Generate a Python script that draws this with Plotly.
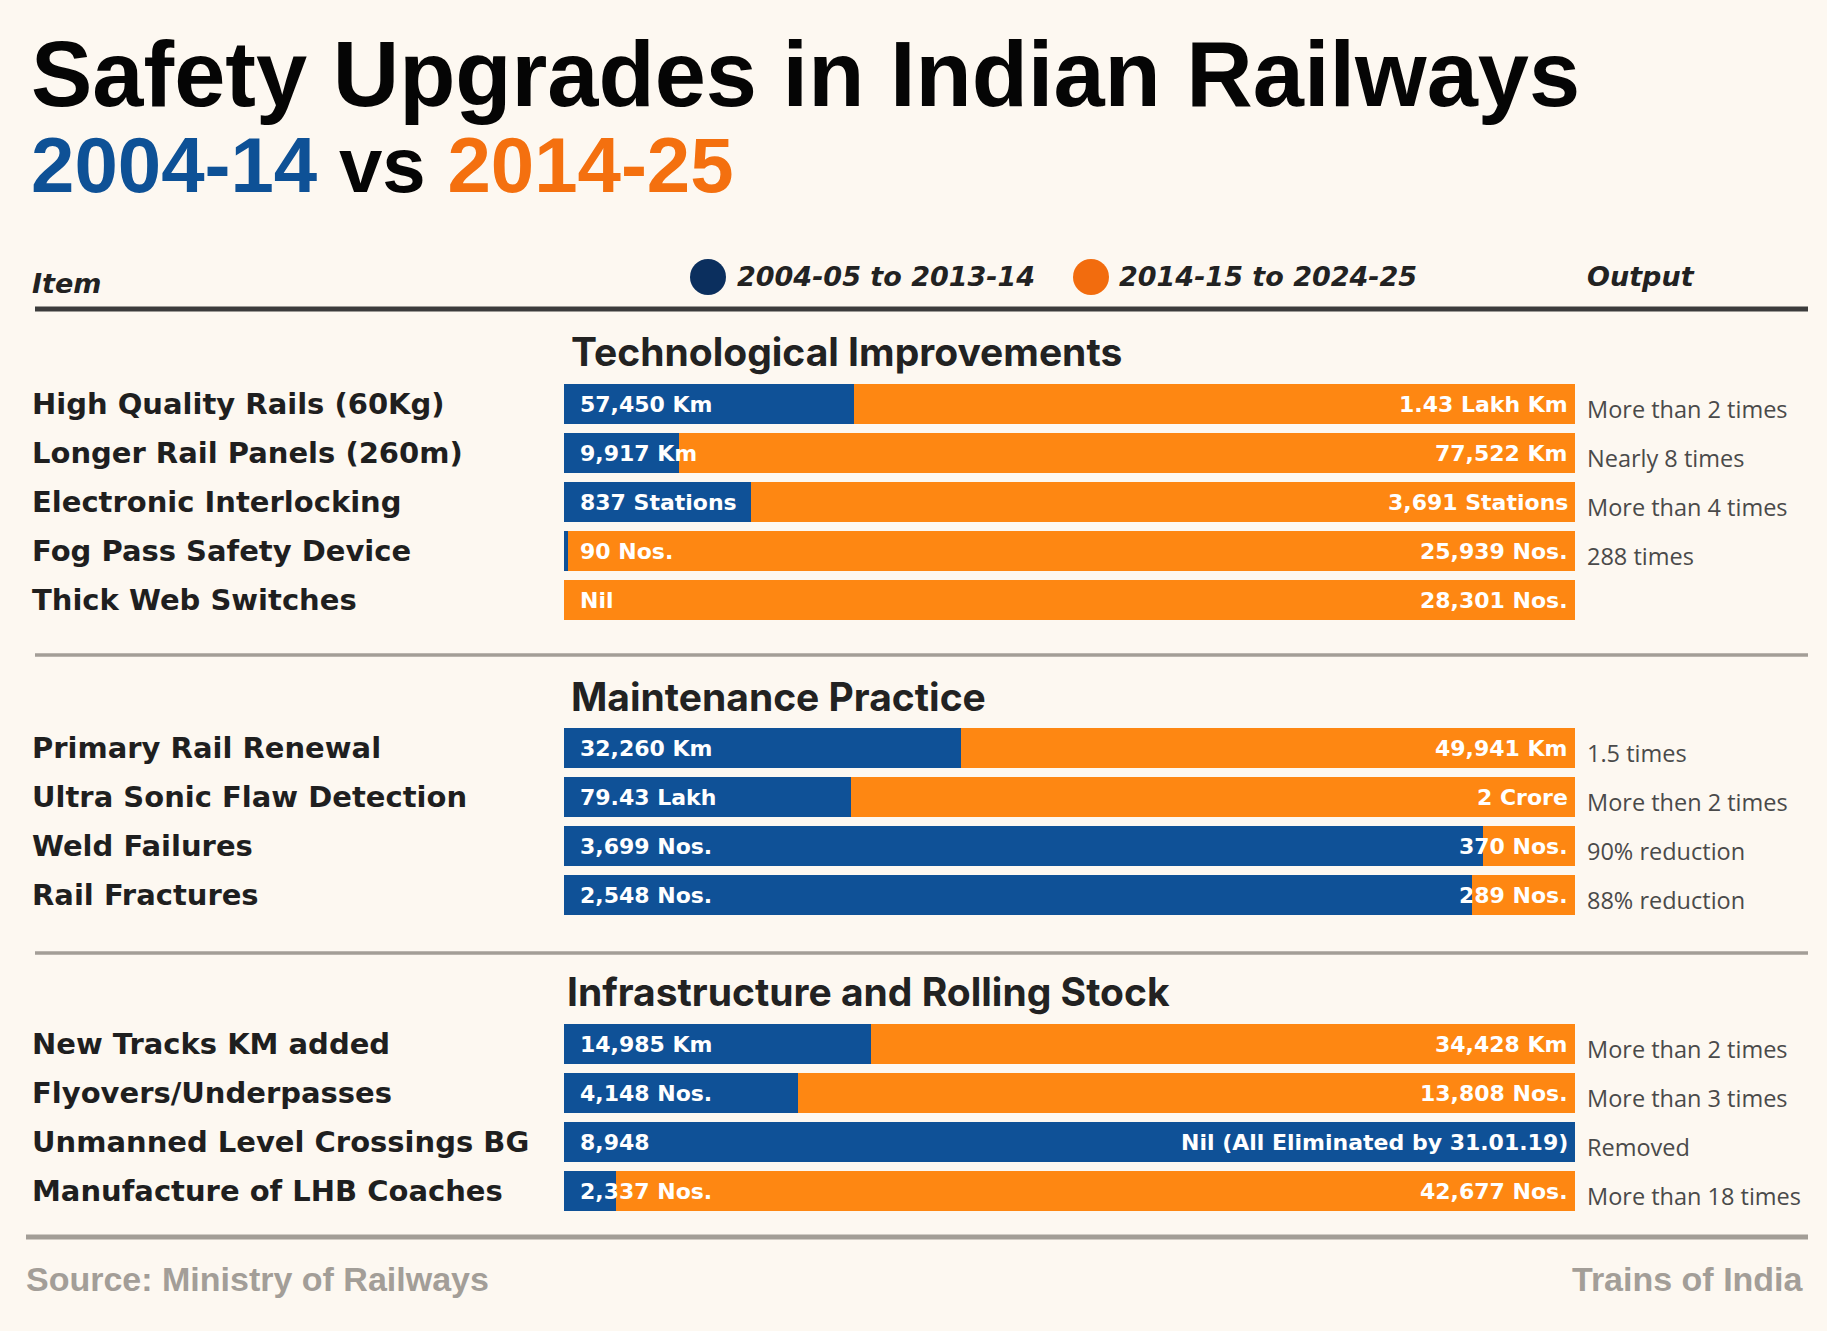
import plotly.graph_objects as go

W, H = 1827, 1331

# section 1
tech_items = ["High Quality Rails (60Kg)", "Longer Rail Panels (260m)", "Electronic Interlocking",
              "Fog Pass Safety Device", "Thick Web Switches"]
tech_old = [57450, 9917, 837, 90, 0]
tech_new = [143000, 77522, 3691, 25939, 28301]
tech_old_txt = ["57,450 Km", "9,917 Km", "837 Stations", "90 Nos.", "Nil"]
tech_new_txt = ["1.43 Lakh Km", "77,522 Km", "3,691 Stations", "25,939 Nos.", "28,301 Nos."]
tech_out = ["More than 2 times", "Nearly 8 times", "More than 4 times", "288 times", ""]

# section 2 (ultrasonic in lakh)
maint_items = ["Primary Rail Renewal", "Ultra Sonic Flaw Detection", "Weld Failures", "Rail Fractures"]
maint_old = [32260, 79.43, 3699, 2548]
maint_new = [49941, 200, 370, 289]
maint_old_txt = ["32,260 Km", "79.43 Lakh", "3,699 Nos.", "2,548 Nos."]
maint_new_txt = ["49,941 Km", "2 Crore", "370 Nos.", "289 Nos."]
maint_out = ["1.5 times", "More then 2 times", "90% reduction", "88% reduction"]

# section 3
infra_items = ["New Tracks KM added", "Flyovers/Underpasses", "Unmanned Level Crossings BG",
               "Manufacture of LHB Coaches"]
infra_old = [14985, 4148, 8948, 2337]
infra_new = [34428, 13808, 0, 42677]
infra_old_txt = ["14,985 Km", "4,148 Nos.", "8,948", "2,337 Nos."]
infra_new_txt = ["34,428 Km", "13,808 Nos.", "Nil (All Eliminated by 31.01.19)", "42,677 Nos."]
infra_out = ["More than 2 times", "More than 3 times", "Removed", "More than 18 times"]

SECTIONS = [
    ("Technological Improvements", tech_items, tech_old, tech_new, tech_old_txt, tech_new_txt, tech_out),
    ("Maintenance Practice", maint_items, maint_old, maint_new, maint_old_txt, maint_new_txt, maint_out),
    ("Infrastructure and Rolling Stock", infra_items, infra_old, infra_new, infra_old_txt, infra_new_txt, infra_out),
]

BLUE = "#0F5197"
ORANGE = "#FE8712"
BG = "#FDF8F1"

# pixel layout of each section: top of bars, header y, header x
SEC_TOP = [379.5, 723.5, 1019.5]
SEC_HEAD = [351, 696, 991]
HEAD_X = [569, 569, 565]
PITCH = 49


def py(y):
    return 1 - y / H


def px(x):
    return x / W


fig = go.Figure()
annotations = []
layout_axes = {}

for i, (head, items, old, new, old_txt, new_txt, out) in enumerate(SECTIONS):
    n = i + 1
    xa = "x" if n == 1 else f"x{n}"
    ya = "y" if n == 1 else f"y{n}"
    fig.add_trace(go.Bar(y=items, x=old, orientation="h", marker=dict(color=BLUE, line_width=0),
                         xaxis=xa, yaxis=ya, showlegend=False, hoverinfo="skip"))
    fig.add_trace(go.Bar(y=items, x=new, orientation="h", marker=dict(color=ORANGE, line_width=0),
                         xaxis=xa, yaxis=ya, showlegend=False, hoverinfo="skip"))
    top = SEC_TOP[i]
    bottom = top + PITCH * len(items)
    layout_axes["xaxis" if n == 1 else f"xaxis{n}"] = dict(
        domain=[px(564), px(1575)], range=[0, 100], visible=False, anchor=ya, fixedrange=True)
    layout_axes["yaxis" if n == 1 else f"yaxis{n}"] = dict(
        domain=[py(bottom), py(top)], autorange="reversed", visible=False, anchor=xa,
        categoryorder="array", categoryarray=items, fixedrange=True)

    annotations.append(dict(text=head, xref="paper", yref="paper", x=px(HEAD_X[i]), y=py(SEC_HEAD[i]),
                            xanchor="left", yanchor="middle", showarrow=False,
                            font=dict(family="Inter", size=39, weight=700, color="#222222")))
    for it, ot, nt, o in zip(items, old_txt, new_txt, out):
        annotations.append(dict(text=it, xref="paper", yref=ya, x=px(30), y=it, xanchor="left",
                                yanchor="middle", showarrow=False,
                                font=dict(family="DejaVu Sans", size=29, weight=700, color="#1f1f1f")))
        annotations.append(dict(text=ot, xref=xa, yref=ya, x=0, y=it, xanchor="left", xshift=14,
                                yanchor="middle", showarrow=False,
                                font=dict(family="DejaVu Sans", size=22, weight=700, color="white")))
        annotations.append(dict(text=nt, xref=xa, yref=ya, x=100, y=it, xanchor="right", xshift=-5,
                                yanchor="middle", showarrow=False,
                                font=dict(family="DejaVu Sans", size=22, weight=700, color="white")))
        if o:
            annotations.append(dict(text=o, xref="paper", yref=ya, x=px(1585), y=it, xanchor="left",
                                    yanchor="middle", yshift=-5, showarrow=False,
                                    font=dict(family="Open Sans", size=23.5, color="#4a4a4a")))

# titles
annotations.append(dict(text="<b>Safety Upgrades in Indian Railways</b>", xref="paper", yref="paper",
                        x=px(29), y=py(74), xanchor="left", yanchor="middle", showarrow=False,
                        font=dict(family="Liberation Sans", size=92, color="#050505")))
annotations.append(dict(text="<b><span style='color:#0E5196'>2004-14</span> vs "
                             "<span style='color:#F4700F'>2014-25</span></b>",
                        xref="paper", yref="paper", x=px(29), y=py(165), xanchor="left",
                        yanchor="middle", showarrow=False,
                        font=dict(family="Liberation Sans", size=78, color="#050505")))

# header row
hdr_font = dict(family="DejaVu Sans", size=27, weight=700, style="italic", color="#222222")
annotations.append(dict(text="Item", xref="paper", yref="paper", x=px(30), y=py(283), xanchor="left",
                        yanchor="middle", showarrow=False, font=hdr_font))
annotations.append(dict(text="2004-05 to 2013-14", xref="paper", yref="paper", x=px(735), y=py(277),
                        xanchor="left", yanchor="middle", showarrow=False, font=hdr_font))
annotations.append(dict(text="2014-15 to 2024-25", xref="paper", yref="paper", x=px(1117), y=py(277),
                        xanchor="left", yanchor="middle", showarrow=False, font=hdr_font))
annotations.append(dict(text="Output", xref="paper", yref="paper", x=px(1585), y=py(276),
                        xanchor="left", yanchor="middle", showarrow=False, font=hdr_font))

# footer
foot_font = dict(family="Liberation Sans", size=34, weight=700, color="#A39E98")
annotations.append(dict(text="Source: Ministry of Railways", xref="paper", yref="paper", x=px(24),
                        y=py(1279), xanchor="left", yanchor="middle", showarrow=False, font=foot_font))
annotations.append(dict(text="Trains of India", xref="paper", yref="paper", x=px(1806), y=py(1279),
                        xanchor="right", yanchor="middle", showarrow=False, font=foot_font))

r = 18
shapes = [
    dict(type="circle", xref="paper", yref="paper", x0=px(708 - r), x1=px(708 + r),
         y0=py(277 + r), y1=py(277 - r), fillcolor="#0B2F5E", line_width=0),
    dict(type="circle", xref="paper", yref="paper", x0=px(1091 - r), x1=px(1091 + r),
         y0=py(277 + r), y1=py(277 - r), fillcolor="#F26C0E", line_width=0),
    dict(type="line", xref="paper", yref="paper", x0=px(35), x1=px(1808), y0=py(309), y1=py(309),
         line=dict(color="#3C3C3C", width=5)),
    dict(type="line", xref="paper", yref="paper", x0=px(35), x1=px(1808), y0=py(655), y1=py(655),
         line=dict(color="#A39E97", width=3.5)),
    dict(type="line", xref="paper", yref="paper", x0=px(35), x1=px(1808), y0=py(953), y1=py(953),
         line=dict(color="#A39E97", width=3.5)),
    dict(type="line", xref="paper", yref="paper", x0=px(26), x1=px(1808), y0=py(1237), y1=py(1237),
         line=dict(color="#A39E97", width=5)),
]

fig.update_layout(
    width=W,
    height=H,
    margin=dict(l=0, r=0, t=0, b=0),
    paper_bgcolor=BG,
    plot_bgcolor=BG,
    barmode="stack",
    barnorm="percent",
    bargap=9 / 49,
    annotations=annotations,
    shapes=shapes,
    showlegend=False,
    **layout_axes,
)

fig.write_html("out.html", config={"displayModeBar": False},
               post_script="document.body.style.margin='0';document.body.style.background='" + BG + "';")
